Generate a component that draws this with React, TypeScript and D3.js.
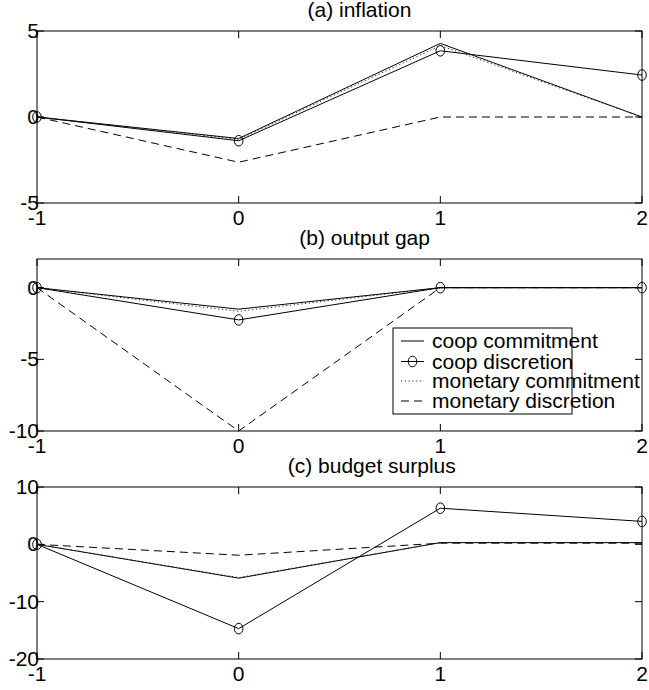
import React from "react";
import * as d3 from "d3";

const periods = [-1, 0, 1, 2];
const xTicks = [-1, 0, 1, 2];

const seriesNames = ["coop commitment", "coop discretion", "monetary commitment", "monetary discretion"];

const inflCoopCommit = [0, -1.25, 4.28, 0];
const inflCoopDisc = [0, -1.38, 3.85, 2.44];
const inflMonCommit = [0, -1.3, 4.15, 0];
const inflMonDisc = [0, -2.63, 0, 0];

const gapCoopCommit = [0, -1.5, 0, 0];
const gapCoopDisc = [0, -2.25, 0, 0];
const gapMonCommit = [0, -1.65, 0, 0];
const gapMonDisc = [0, -10, 0, 0];

const budCoopCommit = [0, -5.9, 0.3, 0.3];
const budCoopDisc = [0, -14.7, 6.3, 4.0];
const budMonCommit = [0, -5.8, 0.3, 0.3];
const budMonDisc = [0, -1.9, 0.2, 0.2];

const titles = ["(a) inflation", "(b) output gap", "(c) budget surplus"];
const yDomains: [number, number][] = [[-5, 5], [-10, 2], [-20, 10]];
const yTicksList = [[-5, 0, 5], [-10, -5, 0], [-20, -10, 0, 10]];

const FONT = "Liberation Sans, Arial, sans-serif";
const FS = 21;

let canvasCtx: CanvasRenderingContext2D | null = null;
function textWidth(s: string) {
  if (!canvasCtx) {
    const c = document.createElement("canvas");
    canvasCtx = c.getContext("2d");
  }
  if (!canvasCtx) return s.length * FS * 0.5;
  canvasCtx.font = `${FS}px "Liberation Sans", Arial, sans-serif`;
  return canvasCtx.measureText(s).width;
}

const styles = [
  { dash: undefined, marker: false, color: "#000" },
  { dash: undefined, marker: true, color: "#000" },
  { dash: "1.2,2.6", marker: false, color: "#222" },
  { dash: "8,5", marker: false, color: "#000" },
];

const L = 37, R = 642;
const panelTops = [31, 259, 487];
const PH = 172;

function Panel({ idx, series }: { idx: number; series: number[][] }) {
  const top = panelTops[idx];
  const bottom = top + PH;
  const x = d3.scaleLinear().domain([-1, 2]).range([L, R]);
  const y = d3.scaleLinear().domain(yDomains[idx]).range([bottom, top]);
  const line = d3.line<number>().x((_, i) => x(periods[i])).y((v) => y(v));
  const tl = 7;
  const tw = textWidth(titles[idx]);
  const cx = (L + R) / 2;
  return (
    <g>
      <text x={cx - 0.308 * tw} y={top - 14} fontFamily={FONT} fontSize={FS} fill="#000">
        {titles[idx]}
      </text>
      {series.map((s, k) => (
        <path key={k} d={line(s) || ""} fill="none" stroke={styles[k].color} strokeWidth={1}
          strokeDasharray={styles[k].dash} />
      ))}
      {series[1].map((v, i) => (
        <ellipse key={i} cx={x(periods[i])} cy={y(v)} rx={4.3} ry={5.3} fill="none" stroke="#000" strokeWidth={1} />
      ))}
      <rect x={L} y={top} width={R - L} height={PH} fill="none" stroke="#000" strokeWidth={1} />
      {xTicks.map((t) => (
        <g key={t}>
          <line x1={x(t)} x2={x(t)} y1={top} y2={top + tl} stroke="#000" />
          <line x1={x(t)} x2={x(t)} y1={bottom} y2={bottom - tl} stroke="#000" />
          <text x={x(t)} y={bottom + 22} textAnchor="middle" fontFamily={FONT} fontSize={FS}>{t}</text>
        </g>
      ))}
      {yTicksList[idx].map((t) => (
        <g key={t}>
          <line x1={L} x2={L + tl} y1={y(t)} y2={y(t)} stroke="#000" />
          <line x1={R} x2={R - tl} y1={y(t)} y2={y(t)} stroke="#000" />
          <text x={L + 2} y={y(t) + 7} textAnchor="end" fontFamily={FONT} fontSize={FS}>{t}</text>
        </g>
      ))}
    </g>
  );
}

function Legend() {
  const bx = 393, by = 328, bw = 179, bh = 86;
  const rows = [341, 361.5, 381, 401];
  return (
    <g>
      <rect x={bx} y={by} width={bw} height={bh} fill="#fff" stroke="#000" strokeWidth={1} />
      {seriesNames.map((n, k) => (
        <g key={n}>
          <line x1={401} x2={424} y1={rows[k]} y2={rows[k]} stroke={styles[k].color} strokeDasharray={styles[k].dash} />
          {styles[k].marker && <ellipse cx={412.5} cy={rows[k]} rx={4.3} ry={5.3} fill="none" stroke="#000" />}
          <text x={432} y={rows[k] + 7} fontFamily={FONT} fontSize={FS}>{n}</text>
        </g>
      ))}
    </g>
  );
}

export default function App() {
  const data = [
    [inflCoopCommit, inflCoopDisc, inflMonCommit, inflMonDisc],
    [gapCoopCommit, gapCoopDisc, gapMonCommit, gapMonDisc],
    [budCoopCommit, budCoopDisc, budMonCommit, budMonDisc],
  ];
  return (
    <svg width={649} height={690} style={{ position: "absolute", left: 0, top: 0, background: "#fff" }}>
      <rect width={649} height={690} fill="#fff" />
      {data.map((s, i) => <Panel key={i} idx={i} series={s} />)}
      <Legend />
    </svg>
  );
}
